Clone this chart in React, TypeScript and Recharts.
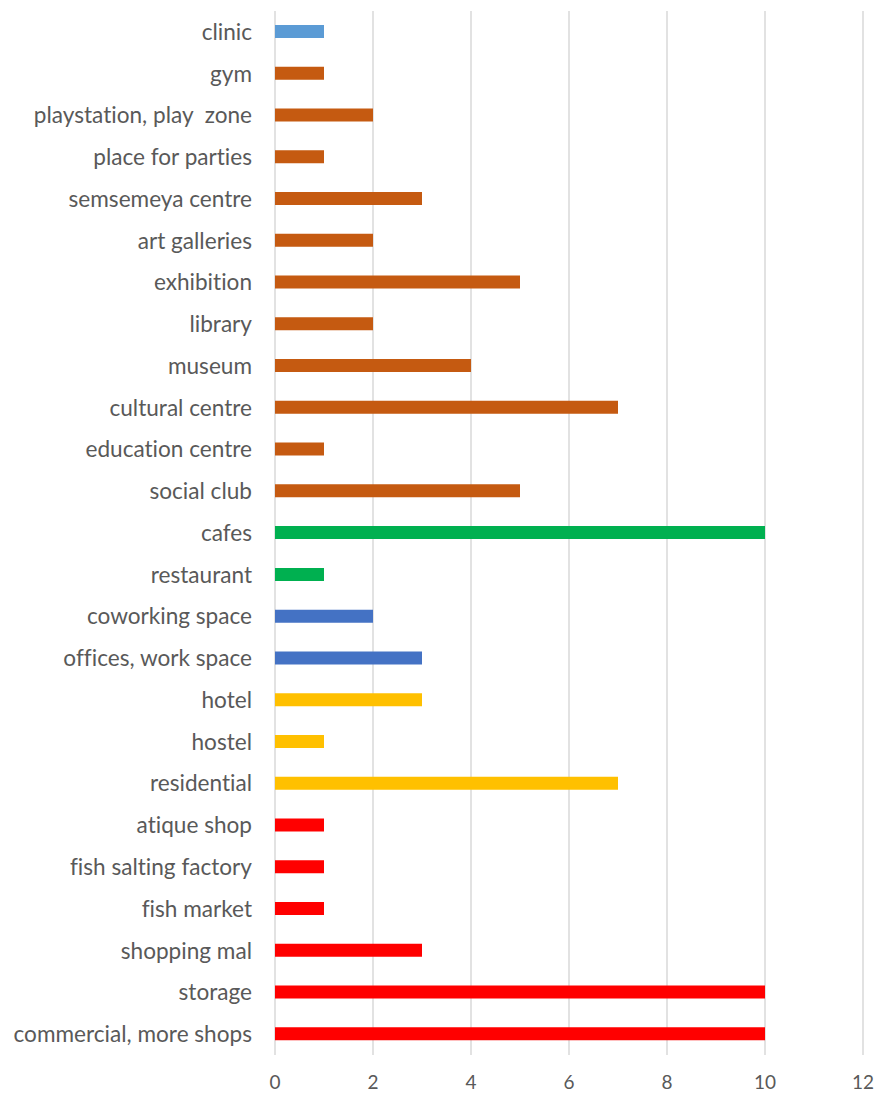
import React from 'react';
import { BarChart, Bar, XAxis, YAxis, CartesianGrid, Cell } from 'recharts';

const categories = [
  'clinic', 'gym', 'playstation, play  zone', 'place for parties', 'semsemeya centre',
  'art galleries', 'exhibition', 'library', 'museum', 'cultural centre',
  'education centre', 'social club', 'cafes', 'restaurant', 'coworking space',
  'offices, work space', 'hotel', 'hostel', 'residential', 'atique shop',
  'fish salting factory', 'fish market', 'shopping mal', 'storage', 'commercial, more shops',
];
const values = [1, 1, 2, 1, 3, 2, 5, 2, 4, 7, 1, 5, 10, 1, 2, 3, 3, 1, 7, 1, 1, 1, 3, 10, 10];
const groups = [
  'health', 'culture', 'culture', 'culture', 'culture', 'culture', 'culture', 'culture', 'culture', 'culture',
  'culture', 'culture', 'food', 'food', 'work', 'work', 'stay', 'stay', 'stay', 'commerce',
  'commerce', 'commerce', 'commerce', 'commerce', 'commerce',
];
const groupColors: Record<string, string> = {
  health: '#5B9BD5', culture: '#C55A11', food: '#00B050', work: '#4472C4', stay: '#FFC000', commerce: '#FF0000',
};
const xTicks = [0, 2, 4, 6, 8, 10, 12];

const data = categories.map((name, i) => ({ name, value: values[i], group: groups[i] }));

const FONT = 'Lato, sans-serif';

const YTick = (props: any) => {
  const { x, y, payload } = props;
  return (
    <text x={x} y={y} dy="0.35em" textAnchor="end" fill="#595959" fontSize={22.6} fontFamily={FONT}
      style={{ whiteSpace: 'pre', fontVariantLigatures: 'none' }}>
      {payload.value}
    </text>
  );
};

export default function App() {
  return (
    <div style={{ position: 'absolute', left: 0, top: 0, background: '#fff' }}>
      <BarChart width={885} height={1097} data={data} layout="vertical" margin={{ top: 11, right: 22, bottom: 0, left: 0 }} barSize={13}>
        <CartesianGrid horizontal={false} stroke="#d9d9d9" strokeWidth={1.5} />
        <XAxis type="number" domain={[0, 12]} ticks={xTicks} axisLine={false} tickLine={false} height={42} tickMargin={15}
          tick={{ fill: '#595959', fontSize: 19, fontFamily: FONT }} />
        <YAxis type="category" dataKey="name" width={275} axisLine={false} tickLine={false} tickMargin={17} tick={<YTick />} interval={0} />
        <Bar dataKey="value" isAnimationActive={false}>
          {data.map((d, i) => <Cell key={i} fill={groupColors[d.group]} />)}
        </Bar>
      </BarChart>
    </div>
  );
}
